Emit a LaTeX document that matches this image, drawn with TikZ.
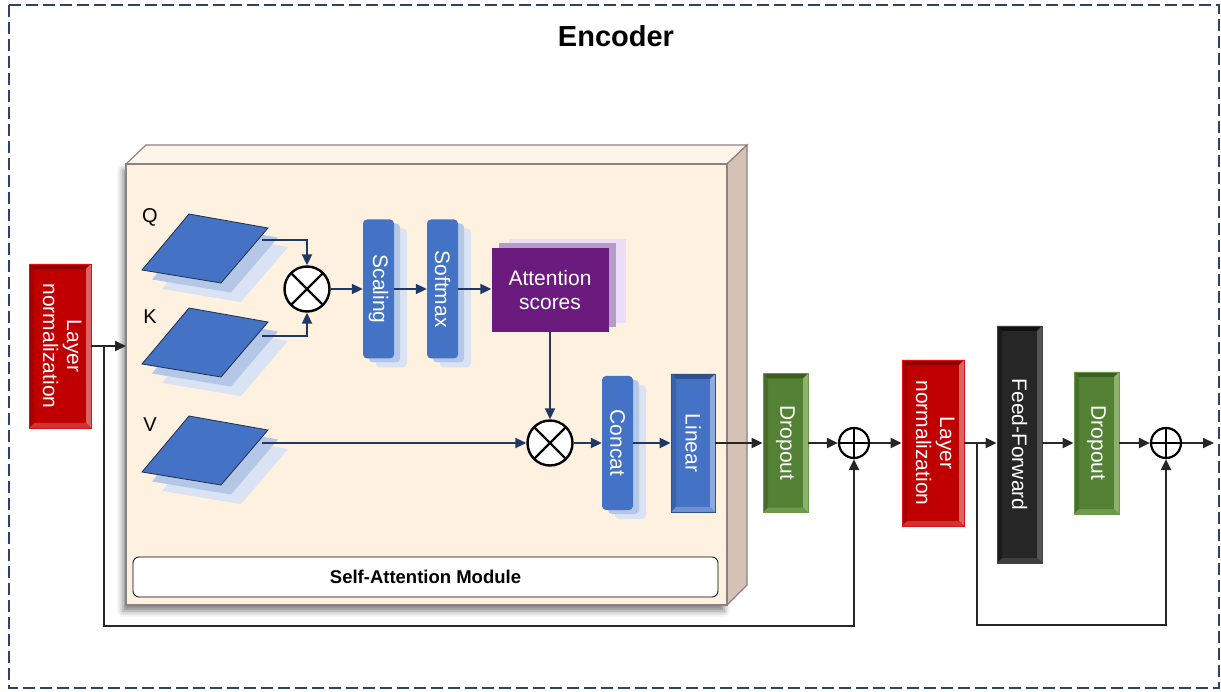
\documentclass[tikz,border=0pt]{standalone}
\usepackage{fontspec}
\setmainfont{Liberation Sans}
\usepackage{graphicx}
\usetikzlibrary{arrows.meta,calc,shadows,shadows.blur}

\definecolor{navy}{HTML}{1F3864}
\definecolor{framec}{HTML}{2E4467}
\definecolor{darkline}{HTML}{262626}
\definecolor{boxblue}{HTML}{4472C4}
\definecolor{sh1}{HTML}{B4C7E7}
\definecolor{sh2}{HTML}{DAE3F3}
\definecolor{plateedge}{HTML}{1F2F50}
\definecolor{attp}{HTML}{6A1B7D}
\definecolor{attsh1}{HTML}{B49CC8}
\definecolor{attsh2}{HTML}{EEDDF6}
\definecolor{cubefront}{HTML}{FFF1E0}
\definecolor{cubetop}{HTML}{FEF6EB}
\definecolor{cubeside}{HTML}{D5C2B5}
\definecolor{cubeedge}{HTML}{8C8282}
% bevel colours
\definecolor{rA}{HTML}{C00000}\definecolor{rB}{HTML}{8C0000}\definecolor{rC}{HTML}{A30000}
\definecolor{rD}{HTML}{D96464}\definecolor{rE}{HTML}{D03232}\definecolor{rF}{HTML}{E01010}
\definecolor{bB}{HTML}{2F528F}\definecolor{bC}{HTML}{3A62AA}
\definecolor{bD}{HTML}{8FAADC}\definecolor{bE}{HTML}{6F8FD0}
\definecolor{gA}{HTML}{548235}\definecolor{gB}{HTML}{3B5E24}\definecolor{gC}{HTML}{476F2C}
\definecolor{gD}{HTML}{8CB26E}\definecolor{gE}{HTML}{6E9A4E}\definecolor{gF}{HTML}{6A9A45}
\definecolor{kA}{HTML}{262626}\definecolor{kB}{HTML}{111111}\definecolor{kC}{HTML}{1A1A1A}
\definecolor{kD}{HTML}{555555}\definecolor{kE}{HTML}{3F3F3F}\definecolor{kF}{HTML}{404040}

\tikzset{
  bevel/.style n args={6}{%
    fill=#1, draw=#6, line width=0.8pt, inner sep=0pt,
    path picture={
      \coordinate (bvA) at (path picture bounding box.north west);
      \coordinate (bvB) at (path picture bounding box.north east);
      \coordinate (bvC) at (path picture bounding box.south east);
      \coordinate (bvD) at (path picture bounding box.south west);
      \fill[#2] (bvA) -- (bvB) -- ([shift={(-5pt,-5pt)}]bvB) -- ([shift={(5pt,-5pt)}]bvA) -- cycle;
      \fill[#3] (bvA) -- ([shift={(5pt,-5pt)}]bvA) -- ([shift={(5pt,5pt)}]bvD) -- (bvD) -- cycle;
      \fill[#4] (bvB) -- (bvC) -- ([shift={(-5pt,5pt)}]bvC) -- ([shift={(-5pt,-5pt)}]bvB) -- cycle;
      \fill[#5] (bvD) -- (bvC) -- ([shift={(-5pt,5pt)}]bvC) -- ([shift={(5pt,5pt)}]bvD) -- cycle;
    }},
  redbox/.style={bevel={rA}{rB}{rC}{rD}{rE}{rF}},
  greenbox/.style={bevel={gA}{gB}{gC}{gD}{gE}{gF}},
  bluebox/.style={bevel={boxblue}{bB}{bC}{bD}{bE}{bB}},
  blackbox/.style={bevel={kA}{kB}{kC}{kD}{kE}{kF}},
  txt/.style={text=white, font=\fontsize{21}{24}\selectfont, align=center},
  mul/.style={circle, draw=black, fill=white, line width=2.4pt, minimum size=45pt, inner sep=0pt,
    path picture={\draw[line width=2.4pt] (path picture bounding box.north west) -- (path picture bounding box.south east)
      (path picture bounding box.north east) -- (path picture bounding box.south west);}},
  add/.style={circle, draw=black, fill=white, line width=2.2pt, minimum size=30pt, inner sep=0pt,
    path picture={\draw[line width=2.2pt] (path picture bounding box.north) -- (path picture bounding box.south)
      (path picture bounding box.west) -- (path picture bounding box.east);}},
  rbox/.style={fill=boxblue, rounded corners=4pt, inner sep=0pt, minimum width=31pt,
    general shadow={shadow xshift=13pt, shadow yshift=-9pt, fill=sh2},
    general shadow={shadow xshift=6pt, shadow yshift=-4pt, fill=sh1}},
  narr/.style={draw=navy, line width=2pt, -{Triangle[length=11pt,width=10pt]}},
  darr/.style={draw=darkline, line width=2pt, -{Triangle[length=11pt,width=10pt]}},
  lbl/.style={font=\fontsize{20}{22}\selectfont, text=black}
}
\newcommand\vtxt[1]{\rotatebox{-90}{\fontsize{21}{24}\selectfont\color{white}#1}}

\begin{document}
\begin{tikzpicture}[x=1pt,y=-1pt]
\useasboundingbox (0,0) rectangle (1221,692);

% outer frame and title
\draw[framec, line width=1.4pt, dash pattern=on 12pt off 5pt] (9,5) rectangle (1219,688);
\node[font=\fontsize{29}{34}\selectfont\bfseries] (title) at (616,36) {Encoder};

% cube (self-attention module container)
\fill[cubefront, blur shadow={shadow xshift=-3pt, shadow yshift=-6pt, shadow blur radius=6pt, shadow opacity=50}] (126,164) rectangle (727,605);
\draw[cubeedge, line width=1.2pt, fill=cubetop] (126,164) -- (146,145) -- (747,145) -- (727,164) -- cycle;
\draw[cubeedge, line width=1.2pt, fill=cubeside] (727,164) -- (747,145) -- (747,585) -- (727,605) -- cycle;
\draw[cubeedge, line width=1.2pt] (126,164) rectangle (727,605);
\node[draw=black, fill=white, rounded corners=6pt, line width=0.8pt, minimum width=585pt, minimum height=40pt,
      font=\fontsize{18.5}{20}\selectfont\bfseries] (samlabel) at (425.5,577) {Self-Attention Module};

% Q K V plates
\foreach \dy in {0,94,202}{
  \begin{scope}[shift={(0,\dy)}]
    \fill[sh2] (209,233) -- (288,247) -- (241,302) -- (162,289) -- cycle;
    \fill[sh1] (199,223.5) -- (278,237.5) -- (231,292.5) -- (152,279.5) -- cycle;
    \draw[fill=boxblue, draw=plateedge, line width=0.8pt] (189,214) -- (268,228) -- (221,283) -- (142,270) -- cycle;
  \end{scope}
}
\node[lbl] (lq) at (150,217) {Q};
\node[lbl] (lk) at (150,317) {K};
\node[lbl] (lv) at (150,425) {V};
\coordinate (qout) at (262,240);
\coordinate (kout) at (262,336);
\coordinate (vout) at (262,443);

% nodes inside module
\node[mul] (mul1) at (307,289) {};
\node[rbox, minimum height=139pt] (scaling) at (378.5,289) {\vtxt{Scaling}};
\node[rbox, minimum height=139pt] (softmax) at (442.5,289) {\vtxt{Softmax}};
\node[fill=attp, inner sep=0pt, minimum width=117pt, minimum height=84pt, txt,
      general shadow={shadow xshift=17pt, shadow yshift=9pt, fill=attsh2},
      general shadow={shadow xshift=7pt, shadow yshift=5pt, fill=attsh1}] (att) at (550,290) {Attention\\scores};
\node[mul] (mul2) at (550,443) {};
\node[rbox, minimum height=134pt] (concat) at (617.5,443) {\vtxt{Concat}};
\node[bluebox, minimum width=44pt, minimum height=138pt] (linear) at (693,443) {\vtxt{Linear}};

% nodes outside module
\node[redbox, minimum width=62pt, minimum height=164pt] (ln1) at (60,346)
  {\vtxt{\begin{tabular}{@{}c@{}}Layer\\normalization\end{tabular}}};
\node[greenbox, minimum width=45pt, minimum height=139pt] (drop1) at (785.5,443) {\vtxt{Dropout}};
\node[add] (add1) at (854,443) {};
\node[redbox, minimum width=62pt, minimum height=166pt] (ln2) at (933,443)
  {\vtxt{\begin{tabular}{@{}c@{}}Layer\\normalization\end{tabular}}};
\node[blackbox, minimum width=45pt, minimum height=237pt] (ff) at (1019.5,444.5) {\vtxt{Feed-Forward}};
\node[greenbox, minimum width=45pt, minimum height=142pt] (drop2) at (1096.5,443) {\vtxt{Dropout}};
\node[add] (add2) at (1166,443) {};

% connectors
\coordinate (cubein) at (126,346);
\coordinate (br1) at (104,346);
\coordinate (r1) at (104,626);
\coordinate (br2) at (977,443);
\coordinate (r2) at (977,625);
\coordinate (out) at (1214,443);

\draw[darr] (ln1.east) -- (cubein);
\draw[darr] (br1) -- (r1) -| (add1.south);
\draw[narr] (qout) -| (mul1.north);
\draw[narr] (kout) -| (mul1.south);
\draw[narr] (mul1.east) -- (mul1.east -| scaling.west);
\draw[narr] (scaling.east) -- (scaling.east -| softmax.west);
\draw[narr] (softmax.east) -- (softmax.east -| att.west);
\draw[narr] (att.south) -- (mul2.north);
\draw[narr] (vout) -- (mul2.west);
\draw[narr] (mul2.east) -- (concat.west);
\draw[narr] (concat.east) -- (linear.west);
\draw[darr] (linear.east) -- (drop1.west);
\draw[darr] (drop1.east) -- (add1.west);
\draw[darr] (add1.east) -- (ln2.west);
\draw[darr] (ln2.east) -- (br2 -| ff.west);
\draw[darr] (br2) -- (r2) -| (add2.south);
\draw[darr] (ff.east |- drop2.west) -- (drop2.west);
\draw[darr] (drop2.east) -- (add2.west);
\draw[darr] (add2.east) -- (out);
\end{tikzpicture}
\end{document}
